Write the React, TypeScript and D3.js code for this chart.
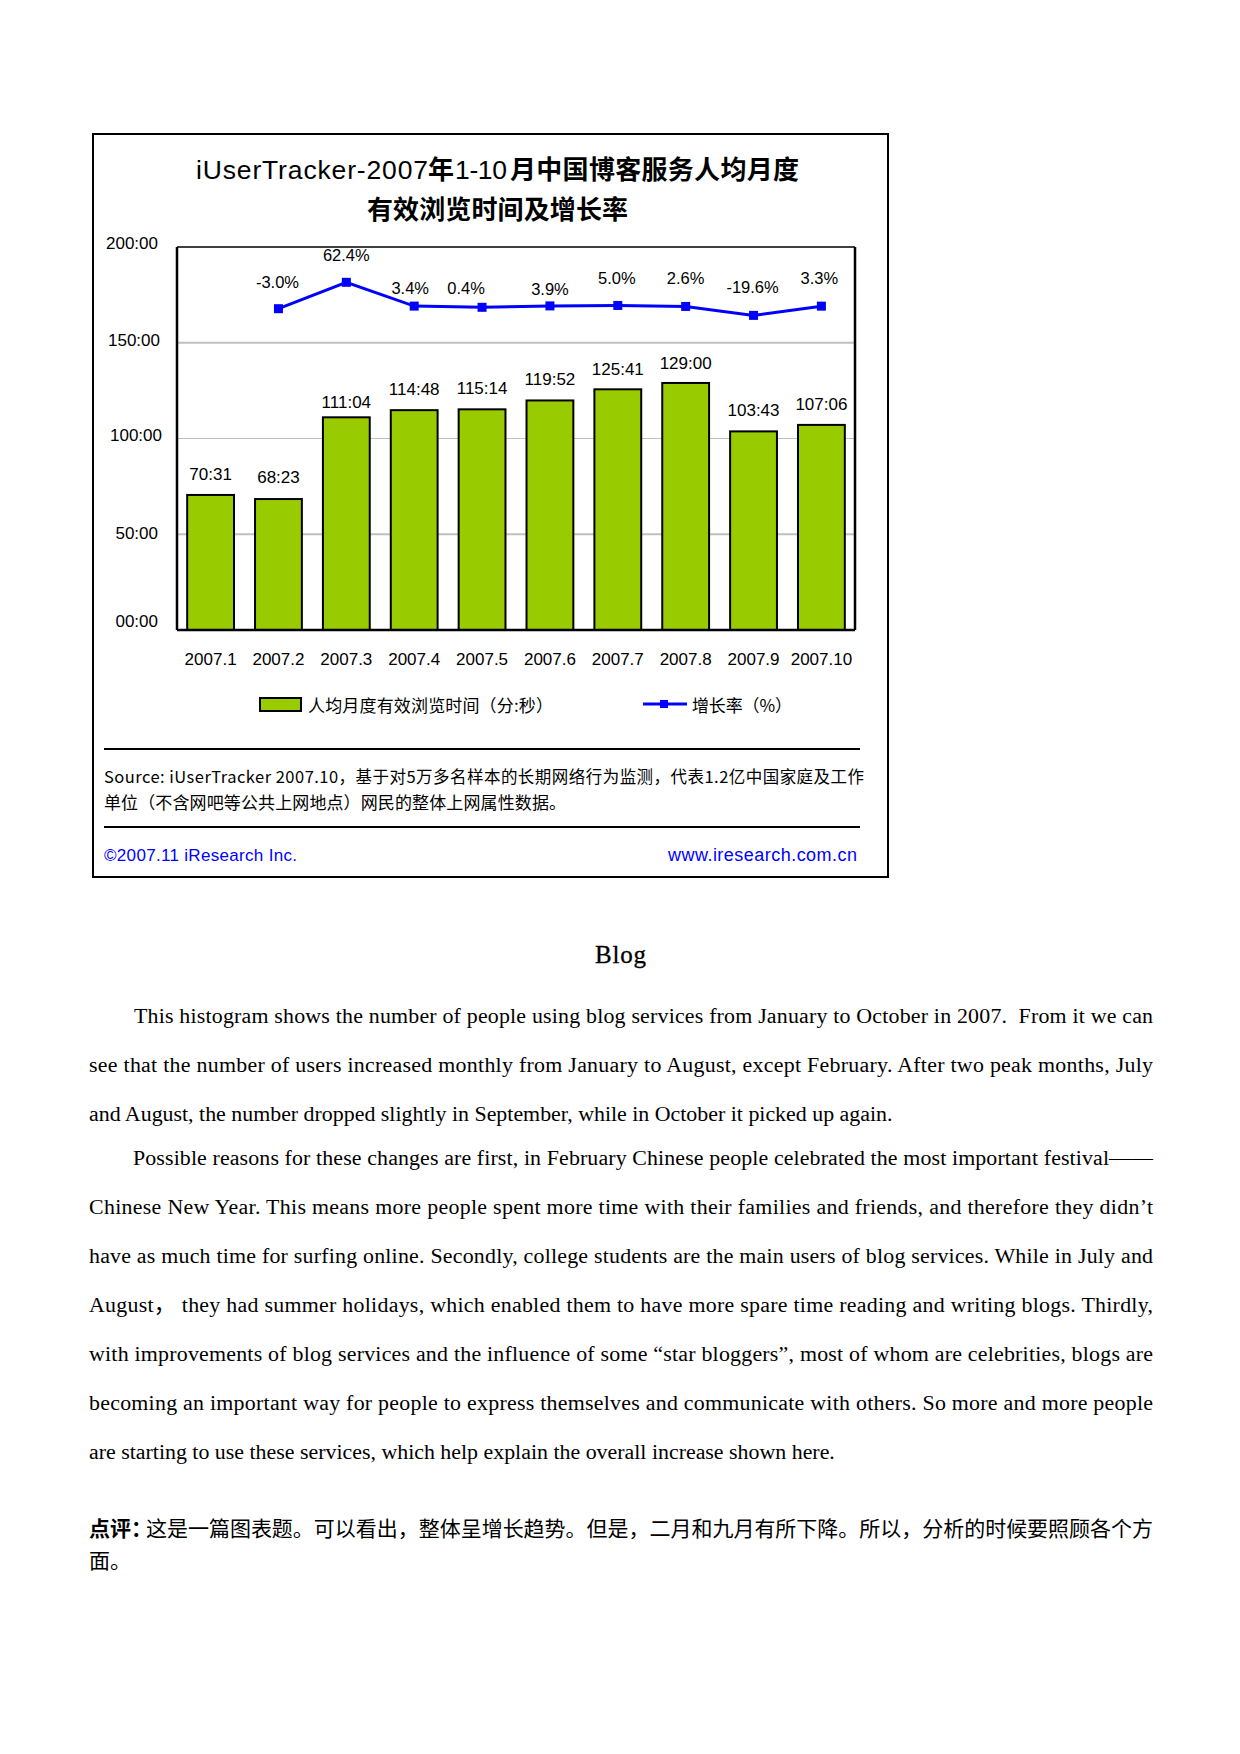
import { line, scaleBand, scaleLinear } from 'd3'

const months = ['2007.1', '2007.2', '2007.3', '2007.4', '2007.5', '2007.6', '2007.7', '2007.8', '2007.9', '2007.10']
const durations = ['70:31', '68:23', '111:04', '114:48', '115:14', '119:52', '125:41', '129:00', '103:43', '107:06']
const growthMonths = months.slice(1)
const growth = [-3.0, 62.4, 3.4, 0.4, 3.9, 5.0, 2.6, -19.6, 3.3]
const yTicks = [200, 150, 100, 50, 0]
const yTickLabels = ['200:00', '150:00', '100:00', '50:00', '00:00']

const paragraphLines = [
  'This histogram shows the number of people using blog services from January to October in 2007.  From it we can',
  'see that the number of users increased monthly from January to August, except February. After two peak months, July',
  'and August, the number dropped slightly in September, while in October it picked up again.',
  'Possible reasons for these changes are first, in February Chinese people celebrated the most important festival——',
  'Chinese New Year. This means more people spent more time with their families and friends, and therefore they didn’t',
  'have as much time for surfing online. Secondly, college students are the main users of blog services. While in July and',
  'August， they had summer holidays, which enabled them to have more spare time reading and writing blogs. Thirdly,',
  'with improvements of blog services and the influence of some “star bloggers”, most of whom are celebrities, blogs are',
  'becoming an important way for people to express themselves and communicate with others. So more and more people',
  'are starting to use these services, which help explain the overall increase shown here.',
]

const toMinutes = (s: string) => {
  const [m, sec] = s.split(':').map(Number)
  return m + sec / 60
}

const plot = { left: 177, right: 855, top: 247, bottom: 630 }
const sans = '"Liberation Sans", "Noto Sans CJK SC", sans-serif'
const cjk = '"Noto Sans CJK SC", "Liberation Sans", sans-serif'
const serif = '"Liberation Serif", "Noto Sans CJK SC", serif'

// the original labels sit a little off the marks, so these are hand nudges
const valueDy = [-15, -16, -9, -15, -15, -15, -14, -14, -15, -15]
const growthDx = [-1, 0, -4, -16, 0, -1, 0, -1, -2]
const growthDy = [-21, -21, -12, -13, -11, -21, -22, -22, -22]
const tickDy = [2, 3, 2, 5, -3]
const tickX = [158, 160, 162, 158, 158]

const BODY_RIGHT = 1153
const BODY_LEFT = 89

export default function App() {
  const x = scaleBand<string>().domain(months).range([plot.left, plot.right]).paddingInner(0.31).paddingOuter(0.15)
  const y = scaleLinear().domain([0, 200]).range([plot.bottom, plot.top])
  const yRate = scaleLinear().domain([-800, 150]).range([plot.bottom, plot.top])
  const center = (m: string) => (x(m) ?? 0) + x.bandwidth() / 2

  const ratePath = line<number>()
    .x((_, i) => center(growthMonths[i]))
    .y((d) => yRate(d))(growth)

  return (
    <svg width={1240} height={1754} style={{ position: 'absolute', left: 0, top: 0, background: '#fff' }}>
      <rect x={93} y={134} width={795} height={743} fill="#fff" stroke="#000" strokeWidth={2} />

      <g fontFamily={sans} fill="#000">
        <text x={196} y={179} fontSize={26.5} textLength={232}>iUserTracker-2007</text>
        <text x={428} y={179} fontSize={26} fontFamily={cjk} fontWeight={700}>年</text>
        <text x={455} y={179} fontSize={26.5} textLength={52}>1-10</text>
        <text x={510} y={179} fontSize={26} fontFamily={cjk} fontWeight={700} textLength={289}>月中国博客服务人均月度</text>
        <text x={367} y={219} fontSize={26} fontFamily={cjk} fontWeight={700} textLength={261}>有效浏览时间及增长率</text>
      </g>

      {yTicks.slice(1, 4).map((t, i) => (
        <line key={t} x1={plot.left} x2={plot.right} y1={y(t)} y2={y(t)} stroke="#c0c0c0" strokeWidth={i === 1 ? 1 : 2} />
      ))}

      {months.map((m, i) => {
        const v = toMinutes(durations[i])
        return (
          <rect
            key={m}
            x={x(m)}
            y={y(v)}
            width={x.bandwidth()}
            height={plot.bottom - y(v)}
            fill="#99cc00"
            stroke="#000"
            strokeWidth={2}
          />
        )
      })}

      <line x1={plot.left} x2={plot.right} y1={plot.top} y2={plot.top} stroke="#000" strokeWidth={1.5} />
      <line x1={plot.left} x2={plot.right} y1={plot.bottom} y2={plot.bottom} stroke="#000" strokeWidth={2.5} />
      <line x1={plot.left} x2={plot.left} y1={plot.top} y2={plot.bottom} stroke="#000" strokeWidth={2.5} />
      <line x1={plot.right} x2={plot.right} y1={plot.top} y2={plot.bottom} stroke="#000" strokeWidth={2.5} />

      <path d={ratePath ?? ''} fill="none" stroke="#0000ff" strokeWidth={3} />
      {growth.map((g, i) => (
        <rect key={i} x={center(growthMonths[i]) - 4.5} y={yRate(g) - 4.5} width={9} height={9} fill="#0000ff" />
      ))}

      <g fontFamily={sans} fontSize={17} fill="#000">
        {yTickLabels.map((label, i) => (
          <text key={label} x={tickX[i]} y={y(yTicks[i]) + tickDy[i]} textAnchor="end">{label}</text>
        ))}
        {months.map((m) => (
          <text key={m} x={center(m)} y={665} textAnchor="middle">{m}</text>
        ))}
        {months.map((m, i) => (
          <text key={m} x={center(m)} y={y(toMinutes(durations[i])) + valueDy[i]} textAnchor="middle">{durations[i]}</text>
        ))}
        {growth.map((g, i) => (
          <text
            key={i}
            x={center(growthMonths[i]) + growthDx[i]}
            y={yRate(g) + growthDy[i]}
            textAnchor="middle"
            fontSize={16.5}
          >
            {g.toFixed(1)}%
          </text>
        ))}
      </g>

      <rect x={260} y={698} width={41} height={13} fill="#99cc00" stroke="#000" strokeWidth={2} />
      <text x={308} y={712} fontFamily={cjk} fontSize={17} textLength={245} fill="#000">人均月度有效浏览时间（分:秒）</text>
      <line x1={643} x2={687} y1={704} y2={704} stroke="#0000ff" strokeWidth={3} />
      <rect x={660} y={700} width={8} height={8} fill="#0000ff" />
      <text x={692} y={712} fontFamily={cjk} fontSize={17} textLength={100} fill="#000">增长率（%）</text>

      <line x1={104} x2={860} y1={749} y2={749} stroke="#000" strokeWidth={2} />
      <text x={104} y={783} fontFamily={cjk} fontSize={16.5} textLength={760} fill="#000">
        Source: iUserTracker 2007.10，基于对5万多名样本的长期网络行为监测，代表1.2亿中国家庭及工作
      </text>
      <text x={104} y={809} fontFamily={cjk} fontSize={17} textLength={462} fill="#000">
        单位（不含网吧等公共上网地点）网民的整体上网属性数据。
      </text>
      <line x1={104} x2={860} y1={827} y2={827} stroke="#000" strokeWidth={2} />
      <text x={104} y={861} fontFamily={sans} fontSize={17} textLength={193} fill="#0000ff">©2007.11 iResearch Inc.</text>
      <text x={668} y={861} fontFamily={sans} fontSize={18} textLength={189} fill="#0000ff">www.iresearch.com.cn</text>

      <text x={595} y={963} fontFamily={serif} fontSize={25} textLength={51} stroke="#000" strokeWidth={0.3} fill="#000">Blog</text>

      <g fontFamily={serif} fontSize={21.9} fill="#000">
        {paragraphLines.map((l, i) => {
          const indent = i === 0 ? 134 : i === 3 ? 133 : BODY_LEFT
          const lineY = i < 3 ? 1023 + i * 49 : 1165 + (i - 3) * 49
          const justified = i !== 2 && i !== 9
          return (
            <text key={i} x={indent} y={lineY} {...(justified ? { textLength: BODY_RIGHT - indent } : {})} xmlSpace="preserve">
              {l}
            </text>
          )
        })}
      </g>

      <text x={BODY_LEFT} y={1536} fontFamily={cjk} fontSize={21} fontWeight={700} fill="#000">点评：</text>
      <text x={146} y={1536} fontFamily={cjk} fontSize={21} textLength={1007} fill="#000">
        这是一篇图表题。可以看出，整体呈增长趋势。但是，二月和九月有所下降。所以，分析的时候要照顾各个方
      </text>
      <text x={BODY_LEFT} y={1568} fontFamily={cjk} fontSize={21} fill="#000">面。</text>
    </svg>
  )
}
